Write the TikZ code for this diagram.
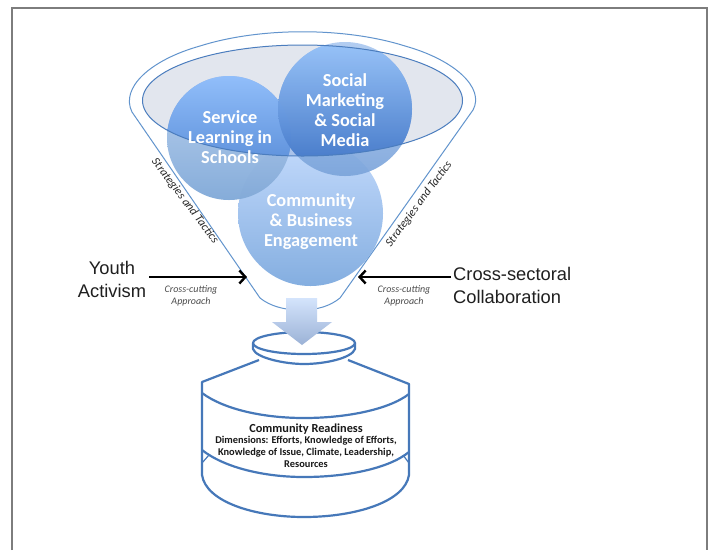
\documentclass[tikz,border=0pt]{standalone}
\usepackage{fontspec}
\setmainfont{Carlito}
\newfontfamily\arialfont{Liberation Sans}
\usetikzlibrary{arrows.meta,calc}
\definecolor{fline}{RGB}{98,148,205}
\definecolor{bline}{RGB}{70,120,185}
\definecolor{mline}{RGB}{75,125,190}
\definecolor{frameg}{RGB}{125,125,125}
\definecolor{comtop}{RGB}{195,218,252}
\definecolor{combot}{RGB}{132,174,224}
\definecolor{sertop}{RGB}{185,208,240}
\definecolor{serbot}{RGB}{130,170,216}
\definecolor{soctop}{RGB}{170,200,240}
\definecolor{socbot}{RGB}{122,163,218}
\definecolor{sermtop}{RGB}{145,190,250}
\definecolor{sermbot}{RGB}{72,126,206}
\definecolor{socmtop}{RGB}{152,196,250}
\definecolor{socmbot}{RGB}{58,112,196}
\definecolor{mouth}{RGB}{36,64,130}
\definecolor{arrtop}{RGB}{212,228,252}
\definecolor{arrbot}{RGB}{155,178,214}
\newcommand{\titlefont}{\bfseries\fontsize{12.3}{14}\selectfont}
\newcommand{\dimfont}{\bfseries\fontsize{10.4}{12.5}\selectfont}
\tikzset{
  x=1pt,y=-1pt,
  funnelline/.style={draw=fline,line width=1pt},
  bottleline/.style={draw=bline,line width=2.2pt,line join=round},
  circtext/.style={text=white,font=\bfseries\fontsize{18.3}{20}\selectfont,align=center},
  biglabel/.style={text=black!88,font=\arialfont\fontsize{18.3}{23}\selectfont,align=center},
  approach/.style={text=black!70,font=\itshape\fontsize{10}{12.5}\selectfont,align=center},
  tactics/.style={text=black!85,font=\itshape\fontsize{11.8}{13}\selectfont},
  sidearrow/.style={draw=black,line width=2.7pt,-{Straight Barb[length=6pt,width=13pt,line width=2.4pt]}},
}
\begin{document}
\begin{tikzpicture}
\useasboundingbox (0,0) rectangle (714,550);
\fill[white] (0,0) rectangle (714,550);
% frame
\draw[frameg,line width=1.3pt] (12,550) -- (12,8) -- (707,8) -- (707,550);
% funnel body
\path[funnelline,fill=white]
  (132,112) .. controls (120,88) and (150,60) .. (200,46)
  .. controls (260,27) and (345,27) .. (405,46)
  .. controls (455,60) and (485,88) .. (473,110)
  -- (340,298) .. controls (330,306) and (318,310) .. (300,310)
  .. controls (284,310) and (270,306) .. (260,298) -- cycle;
% circles
\shade[top color=comtop,bottom color=combot] (310.5,213.5) circle (72.5);
\shade[top color=sertop,bottom color=serbot,opacity=.97] (229,138) circle (62);
\shade[top color=soctop,bottom color=socbot,opacity=.9] (345,109) circle (67);
% mouth of the funnel
\path[fill=mouth,fill opacity=.13] (302.5,100.5) ellipse (160 and 55.5);
\begin{scope}
  \clip (302.5,100.5) ellipse (160 and 55.5);
  \shade[top color=sermtop,bottom color=sermbot] (229,138) circle (62);
  \shade[top color=socmtop,bottom color=socmbot,opacity=.92] (345,109) circle (67);
\end{scope}
\path[draw=mline,line width=1pt] (302.5,100.5) ellipse (160 and 55.5);
% circle labels
\node[circtext] (service) at (230,137.5) {Service\\Learning in\\Schools};
\node[circtext] (social) at (345,110) {Social\\Marketing\\\& Social\\Media};
\node[circtext] (community) at (311,221.5) {Community\\\& Business\\Engagement};
% side texts
\node[tactics,rotate=-53] (tacticsL) at (185,201) {Strategies and Tactics};
\node[tactics,rotate=53.5] (tacticsR) at (419,204) {Strategies and Tactics};
% side labels and arrows
\coordinate (lefttip) at (247,277);
\coordinate (righttip) at (358,277);
\node[biglabel,inner sep=3pt] (youth) at (112,279.5) {Youth\\Activism};
\node[biglabel,inner sep=2pt,align=left,anchor=west] (cross) at (451,285) {Cross-sectoral\\Collaboration};
\draw[sidearrow] (youth.east |- lefttip) -- (lefttip);
\draw[sidearrow] (cross.west |- righttip) -- (righttip);
\node[approach] (apL) at (191,296) {Cross-cutting\\Approach};
\node[approach] (apR) at (404,296) {Cross-cutting\\Approach};
% bottle
\path[bottleline]
  (259,360) -- (202,382) -- (202,475)
  .. controls (206,502) and (255,517) .. (304,517)
  .. controls (355,517) and (405,502) .. (409,475)
  -- (409,384) -- (348,360);
\path[bottleline] (202,393) .. controls (225,410) and (265,418) .. (304,418)
  .. controls (345,418) and (388,410) .. (409,394);
\path[bottleline] (202,450) .. controls (225,468) and (265,477) .. (304,477)
  .. controls (345,477) and (388,469) .. (409,452);
\path[bottleline,line width=1.2pt] (202,463) -- (209,455);
\path[bottleline,line width=1.2pt] (409,463) -- (403,455);
\path[bottleline,fill=white]
  (253,343) -- (253,349) .. controls (256,358) and (285,364) .. (304,364)
  .. controls (325,364) and (352,358) .. (355,349) -- (355,343) -- cycle;
\path[bottleline,fill=white] (304,343) ellipse (51 and 11);
% block arrow
\shade[top color=arrtop,bottom color=arrbot]
  (286,298) -- (317,298) -- (317,322) -- (332,322) -- (302,345) -- (272,322) -- (286,322) -- cycle;
% bottle text
\node[align=center,text=black!90,inner sep=0pt] (ready) at (306,445.5)
  {\titlefont Community Readiness\\[-1pt]
   \dimfont Dimensions: Efforts, Knowledge of Efforts,\\
   \dimfont Knowledge of Issue, Climate, Leadership,\\
   \dimfont Resources};
\end{tikzpicture}
\end{document}
